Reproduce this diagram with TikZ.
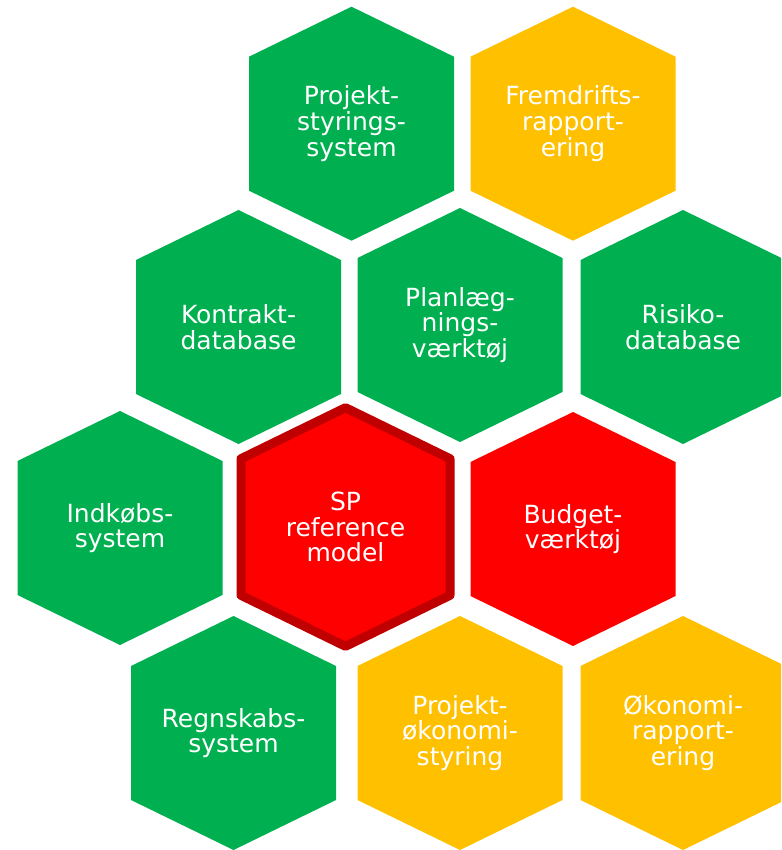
\documentclass[tikz,border=0pt]{standalone}
\usepackage{fontspec}
\setmainfont{DejaVu Sans}
\definecolor{hgreen}{HTML}{00B050}
\definecolor{hyellow}{HTML}{FFC000}
\definecolor{hred}{HTML}{FF0000}
\definecolor{hdark}{HTML}{C00000}
\tikzset{
  hex/.pic={\path[pic actions] (0,-117) -- (102.5,-67) -- (102.5,67) -- (0,117) -- (-102.5,67) -- (-102.5,-67) -- cycle;},
  bighex/.pic={\path[pic actions] (0,-119.3) -- (104.5,-68.3) -- (104.5,68.3) -- (0,119.3) -- (-104.5,68.3) -- (-104.5,-68.3) -- cycle;},
  lbl/.style={text=white, align=center, font=\fontsize{25}{25.8}\selectfont, inner sep=0pt}
}
\begin{document}
\begin{tikzpicture}[x=1pt,y=-1pt]
\useasboundingbox (0,0) rectangle (781,850);
\clip (0,0) rectangle (781,850);
% row 1
\pic[fill=hgreen] at (351.5,123.7) {hex};
\node[lbl] (pss) at (351.5,123.7) {Projekt-\\styrings-\\system};
\pic[fill=hyellow] at (573,123.7) {hex};
\node[lbl] (fr) at (573,123.7) {Fremdrifts-\\rapport-\\ering};
% row 2
\pic[fill=hgreen] at (238.5,327) {hex};
\node[lbl] (kd) at (238.5,327) {Kontrakt-\\database};
\pic[fill=hgreen] at (460,325) {hex};
\node[lbl] (pv) at (460,325) {Planlæg-\\nings-\\værktøj};
\pic[fill=hgreen] at (683,327) {hex};
\node[lbl] (rd) at (683,327) {Risiko-\\database};
% row 3
\pic[fill=hgreen] at (120,528) {hex};
\node[lbl] (is) at (120,528) {Indkøbs-\\system};
\pic[fill=hred, draw=hdark, line width=9pt, line join=round] at (345.5,527) {bighex};
\node[lbl] (sp) at (345.5,527) {SP\\reference\\model};
\pic[fill=hred] at (573,529) {hex};
\node[lbl] (bv) at (573,529) {Budget-\\værktøj};
% row 4
\pic[fill=hgreen] at (233.5,733) {hex};
\node[lbl] (rs) at (233.5,733) {Regnskabs-\\system};
\pic[fill=hyellow] at (460,733) {hex};
\node[lbl] (po) at (460,733) {Projekt-\\økonomi-\\styring};
\pic[fill=hyellow] at (683,733) {hex};
\node[lbl] (or) at (683,733) {Økonomi-\\rapport-\\ering};
\end{tikzpicture}
\end{document}
